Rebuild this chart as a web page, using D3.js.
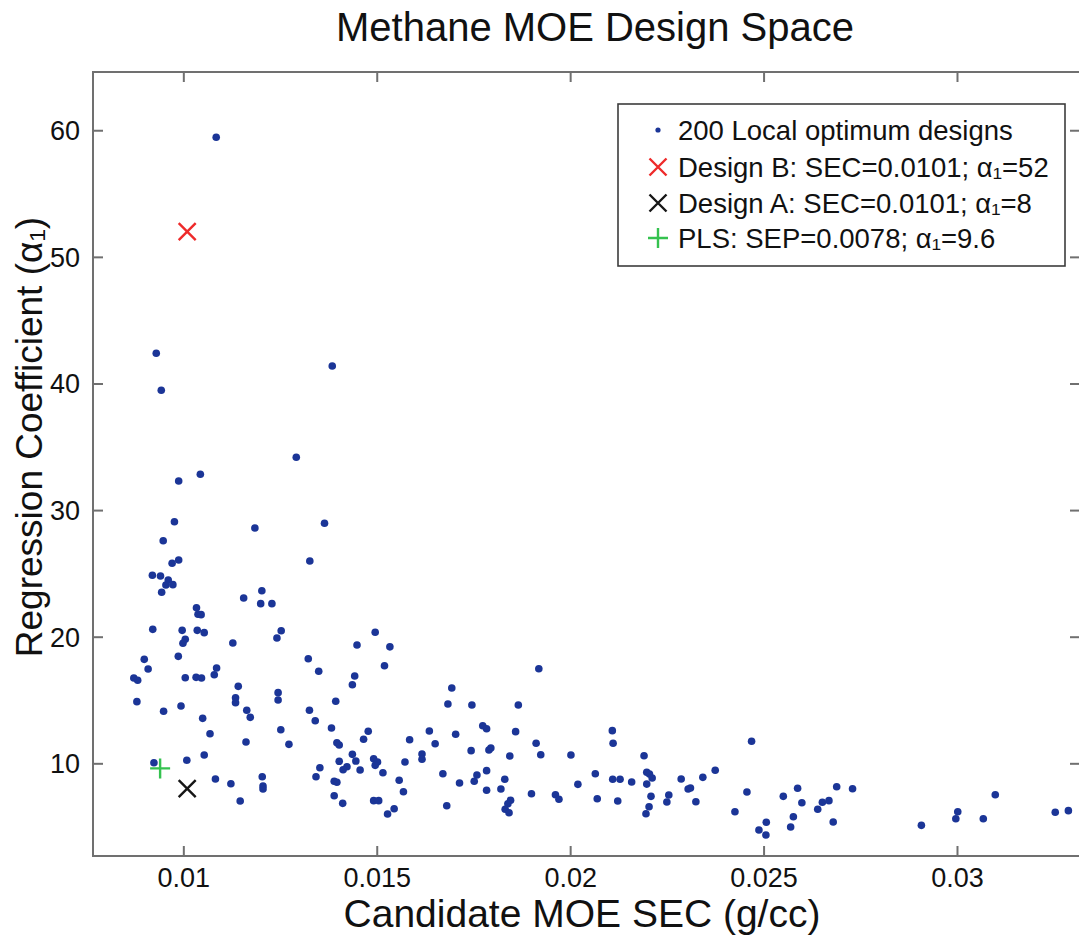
<!DOCTYPE html>
<html>
<head>
<meta charset="utf-8">
<script src="https://cdn.jsdelivr.net/npm/d3@7"></script>
<style>
  html, body { margin: 0; padding: 0; background: #fff; }
  svg { display: block; }
  text { font-family: "Liberation Sans", Arial, sans-serif; fill: #111; }
</style>
</head>
<body>
<svg id="chart" width="1079" height="943"></svg>
<script>
// Candidate MOE SEC (g/cc) of each local optimum design
const designSEC = [
  0.01085, 0.00930, 0.00943, 0.01385, 0.01292, 0.00988, 0.01044, 0.00977, 0.00948, 0.01185,
  0.01365, 0.00971, 0.00988, 0.01327, 0.00920, 0.00941, 0.00961, 0.00955, 0.00973, 0.00944,
  0.01203, 0.01156, 0.01200, 0.01229, 0.01034, 0.01038, 0.01046, 0.00921, 0.00997, 0.01036,
  0.01054, 0.01005, 0.00999, 0.01128, 0.01242, 0.01253, 0.01449, 0.01496, 0.01534, 0.00899,
  0.00909, 0.00987, 0.00872, 0.00882, 0.01005, 0.01033, 0.01047, 0.01086, 0.01080, 0.01142,
  0.01135, 0.01135, 0.01245, 0.01245, 0.00880, 0.00949, 0.00994, 0.01050, 0.01069, 0.01054,
  0.01164, 0.01173, 0.01162, 0.01252, 0.01273, 0.01326, 0.01341, 0.01394, 0.01383, 0.01397,
  0.01403, 0.01478, 0.01466, 0.01437, 0.01446, 0.01403, 0.01423, 0.01413, 0.01457, 0.01492,
  0.01502, 0.01496, 0.01516, 0.01528, 0.01492, 0.01505, 0.01390, 0.01397, 0.01390, 0.01412,
  0.01353, 0.01343, 0.00924, 0.01009, 0.01083, 0.01123, 0.01147, 0.01204, 0.01206, 0.01206,
  0.01323, 0.01350, 0.01520, 0.01443, 0.01437, 0.01919, 0.01694, 0.01684, 0.01746, 0.01866,
  0.01774, 0.01784, 0.01636, 0.01704, 0.01859, 0.01585, 0.01651, 0.02109, 0.02111, 0.01573,
  0.01617, 0.01617, 0.01744, 0.01790, 0.01795, 0.01912, 0.01924, 0.01844, 0.02002, 0.01558,
  0.01569, 0.01671, 0.01714, 0.01759, 0.01752, 0.01784, 0.01784, 0.01831, 0.01821, 0.01846,
  0.01839, 0.01832, 0.01842, 0.01681, 0.01545, 0.01900, 0.01962, 0.01971, 0.02020, 0.02065,
  0.02070, 0.02110, 0.02129, 0.02123, 0.02159, 0.02191, 0.02198, 0.02205, 0.02212, 0.02198,
  0.02209, 0.02204, 0.02196, 0.02255, 0.02250, 0.02287, 0.02305, 0.02311, 0.02325, 0.02343,
  0.02375, 0.02426, 0.02469, 0.02457, 0.02488, 0.02507, 0.02506, 0.02551, 0.02588, 0.02599,
  0.02577, 0.02570, 0.02640, 0.02652, 0.02669, 0.02680, 0.02689, 0.02730, 0.02908, 0.02997,
  0.03002, 0.03068, 0.03099, 0.03254, 0.03288
];

// Regression coefficient alpha_1 of each local optimum design
const designAlpha = [
  59.45, 42.39, 39.46, 41.38, 34.17, 32.30, 32.83, 29.08, 27.58, 28.59,
  28.96, 25.80, 26.06, 25.98, 24.85, 24.79, 24.48, 24.08, 24.11, 23.51,
  23.63, 23.06, 22.61, 22.61, 22.29, 21.77, 21.74, 20.58, 20.50, 20.50,
  20.32, 19.79, 19.48, 19.50, 19.90, 20.47, 19.34, 20.35, 19.20, 18.21,
  17.45, 18.45, 16.74, 16.56, 16.76, 16.79, 16.74, 17.53, 17.00, 16.08,
  15.18, 14.79, 15.58, 15.00, 14.87, 14.11, 14.53, 13.55, 12.34, 10.66,
  14.19, 13.63, 11.68, 12.65, 11.50, 14.19, 13.36, 14.90, 12.79, 11.63,
  11.45, 12.53, 11.90, 10.71, 10.18, 10.16, 9.73, 9.49, 9.47, 10.36,
  10.10, 9.84, 9.26, 6.00, 7.05, 7.05, 8.58, 8.50, 7.44, 6.84,
  9.65, 8.94, 10.05, 10.24, 8.76, 8.39, 7.02, 8.94, 8.21, 7.97,
  18.26, 17.27, 17.71, 16.90, 16.21, 17.47, 15.95, 14.68, 14.60, 14.60,
  12.97, 12.73, 12.55, 12.29, 12.50, 11.86, 11.55, 12.58, 11.58, 10.10,
  10.73, 10.32, 11.00, 11.05, 11.21, 11.58, 10.68, 10.58, 10.66, 8.66,
  7.76, 9.18, 8.44, 9.08, 8.58, 9.42, 7.87, 8.74, 7.97, 7.08,
  6.81, 6.37, 6.10, 6.65, 6.41, 7.60, 7.52, 7.16, 8.34, 9.18,
  7.20, 8.74, 8.74, 7.02, 8.52, 10.60, 9.29, 9.15, 8.84, 8.36,
  7.39, 6.57, 6.02, 7.50, 6.94, 8.76, 7.97, 8.05, 6.97, 8.89,
  9.45, 6.18, 11.74, 7.73, 4.73, 5.34, 4.34, 7.39, 8.03, 6.89,
  5.78, 4.97, 6.37, 6.92, 7.05, 5.36, 8.15, 7.99, 5.10, 5.62,
  6.18, 5.62, 7.52, 6.13, 6.26
];

// Highlighted designs
const highlightNames = ["Design B", "Design A", "PLS"];
const highlightSEC   = [0.0101, 0.0101, 0.0094];
const highlightAlpha = [52, 8, 9.6];

// Legend entries
const legendLabels = [
  "200 Local optimum designs",
  "Design B: SEC=0.0101; α₁=52",
  "Design A: SEC=0.0101; α₁=8",
  "PLS: SEP=0.0078; α₁=9.6"
];

// Axis ticks
const xTicks = [0.01, 0.015, 0.02, 0.025, 0.03];
const xTickLabels = ["0.01", "0.015", "0.02", "0.025", "0.03"];
const yTicks = [10, 20, 30, 40, 50, 60];
const yTickLabels = ["10", "20", "30", "40", "50", "60"];

const svg = d3.select("#chart");
const plot = { left: 93, right: 1080, top: 72, bottom: 856 };

const x = d3.scaleLinear().domain([0.007665, 0.03318]).range([plot.left, plot.right]);
const y = d3.scaleLinear().domain([2.68, 64.6]).range([plot.bottom, plot.top]);

const axisColor = "#707070";
const tickLen = 10;

// Title
svg.append("text")
  .attr("x", 595).attr("y", 41)
  .attr("text-anchor", "middle")
  .style("font-size", "40px")
  .text("Methane MOE Design Space");

// Frame
svg.append("rect")
  .attr("x", plot.left).attr("y", plot.top)
  .attr("width", plot.right - plot.left).attr("height", plot.bottom - plot.top)
  .attr("fill", "none").attr("stroke", axisColor).attr("stroke-width", 2);

// Axes with ticks on all four sides, pointing inward
const gBottom = svg.append("g").attr("transform", `translate(0,${plot.bottom})`)
  .call(d3.axisBottom(x).tickValues(xTicks).tickSize(-tickLen).tickPadding(12)
    .tickFormat((d, i) => xTickLabels[i]));
const gTop = svg.append("g").attr("transform", `translate(0,${plot.top})`)
  .call(d3.axisTop(x).tickValues(xTicks).tickSize(-tickLen).tickFormat(""));
const gLeft = svg.append("g").attr("transform", `translate(${plot.left},0)`)
  .call(d3.axisLeft(y).tickValues(yTicks).tickSize(-tickLen).tickPadding(13)
    .tickFormat((d, i) => yTickLabels[i]));
const gRight = svg.append("g").attr("transform", `translate(${plot.right},0)`)
  .call(d3.axisRight(y).tickValues(yTicks).tickSize(-tickLen).tickFormat(""));

[gBottom, gTop, gLeft, gRight].forEach(g => {
  g.select(".domain").remove();
  g.selectAll(".tick line").attr("stroke", axisColor).attr("stroke-width", 2);
  g.selectAll(".tick text").attr("fill", "#111")
    .style("font-size", "27px")
    .style("font-family", '"Liberation Sans", Arial, sans-serif');
});
gBottom.selectAll(".tick text").attr("dy", "0.71em");
gLeft.selectAll(".tick text").attr("dy", "0.35em");

// Axis titles
svg.append("text")
  .attr("x", 582).attr("y", 927)
  .attr("text-anchor", "middle")
  .style("font-size", "39px")
  .text("Candidate MOE SEC (g/cc)");

svg.append("text")
  .attr("transform", "translate(42,437) rotate(-90)")
  .attr("text-anchor", "middle")
  .style("font-size", "37px")
  .text("Regression Coefficient (α₁)");

// Markers
const blue = "#1b3597";
const markerColors = ["#ee2a2a", "#161616", "#35c24f"];

function crossPath(cx, cy, r) {
  return `M${cx - r},${cy - r}L${cx + r},${cy + r}M${cx - r},${cy + r}L${cx + r},${cy - r}`;
}
function plusPath(cx, cy, r) {
  return `M${cx - r},${cy}L${cx + r},${cy}M${cx},${cy - r}L${cx},${cy + r}`;
}

const pts = designSEC.map((s, i) => ({ s, a: designAlpha[i] }));
svg.append("g").selectAll("circle").data(pts).join("circle")
  .attr("cx", d => x(d.s)).attr("cy", d => y(d.a))
  .attr("r", 3.8).attr("fill", blue);

const hl = highlightNames.map((n, i) => ({ n, s: highlightSEC[i], a: highlightAlpha[i], c: markerColors[i] }));
svg.append("g").selectAll("path").data(hl).join("path")
  .attr("d", d => d.n === "PLS" ? plusPath(x(d.s), y(d.a), 10) : crossPath(x(d.s), y(d.a), 8.5))
  .attr("stroke", d => d.c).attr("stroke-width", 2.4).attr("fill", "none");

// Legend
const leg = svg.append("g");
leg.append("rect")
  .attr("x", 618).attr("y", 104).attr("width", 447).attr("height", 162)
  .attr("fill", "#fff").attr("stroke", "#3c3c3c").attr("stroke-width", 1.6);

const rowY = [130, 167, 203, 238];
legendLabels.forEach((label, i) => {
  const cy = rowY[i];
  const mx = 658;
  if (i === 0) {
    leg.append("circle").attr("cx", mx).attr("cy", cy).attr("r", 2.6).attr("fill", blue);
  } else if (i === 3) {
    leg.append("path").attr("d", plusPath(mx, cy, 10))
      .attr("stroke", markerColors[2]).attr("stroke-width", 2.4).attr("fill", "none");
  } else {
    leg.append("path").attr("d", crossPath(mx, cy, 8.5))
      .attr("stroke", markerColors[i - 1]).attr("stroke-width", 2.4).attr("fill", "none");
  }
  leg.append("text")
    .attr("x", 678).attr("y", cy).attr("dy", "0.36em")
    .style("font-size", "27.5px")
    .text(label);
});
</script>
</body>
</html>
